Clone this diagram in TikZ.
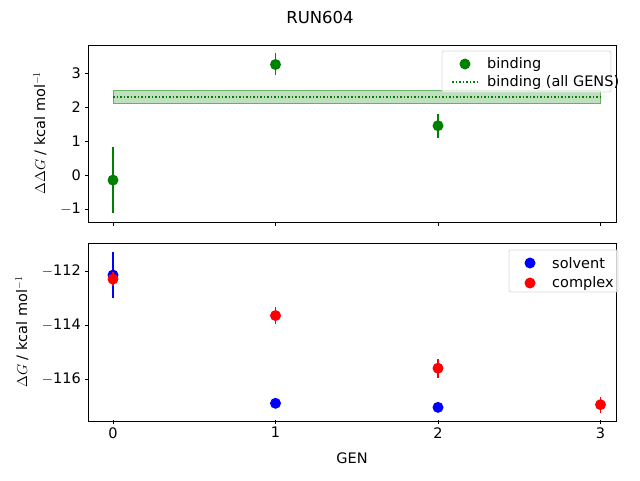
\documentclass[tikz,border=0pt]{standalone}
\usepackage{fontspec}
\setmainfont{DejaVu Sans}
\definecolor{mplgreen}{RGB}{0,128,0}
\tikzset{
  frame/.style={draw, line width=0.8pt},
  tick/.style={line width=0.8pt},
  errbar/.style={line width=1.8pt},
  marker/.style={circle, inner sep=0pt, minimum size=11pt},
  lbl/.style={font=\fontsize{14.5}{17}\selectfont, inner sep=1pt},
  legendbox/.style={draw=black!15, fill=white, fill opacity=0.8, rounded corners=2pt, line width=0.8pt}
}
\begin{document}
\begin{tikzpicture}[x=1pt, y=-1pt]
\useasboundingbox (0,0) rectangle (640,480);
\node[lbl, font=\fontsize{16.5}{19}\selectfont] (title) at (320,17) {RUN604};
% top axes
\draw[frame] (88,45) rectangle (616,222);
\begin{scope}[x=162.5pt, y=34pt, shift={(113pt,-175pt)}]
  \fill[mplgreen!25] (0,2.1) rectangle (3,2.5);
  \draw[mplgreen!60, line width=0.8pt] (0,2.1) rectangle (3,2.5);
  \draw[mplgreen, dotted, line width=1.5pt] (0,2.3) -- (3,2.3);
  \foreach \gx/\gy/\lo/\hi in {0/-0.15/-1.13/0.82, 1/3.25/2.95/3.6, 2/1.45/1.1/1.8}{
    \draw[errbar, mplgreen] (\gx,\lo) -- (\gx,\hi);
    \node[marker, fill=mplgreen] at (\gx,\gy) {};
  }
  \foreach \gy/\txt in {-1/$-$1,0/0,1/1,2/2,3/3}{
    \draw[tick] (-0.1538,\gy) -- ++(-3.5pt,0);
    \node[lbl, anchor=east] at ([xshift=-6pt]-0.1538,\gy) {\txt};
  }
  \foreach \gx in {0,1,2,3}
    \draw[tick] (\gx,-1.41) -- ++(0,-3.5pt);
\end{scope}
\node[lbl, rotate=90] (ylabA) at (40,133) {$\Delta\Delta G$ / kcal mol$^{-1}$};
% legend top
\draw[legendbox] (442,51) rectangle (611,92);
\node[marker, fill=mplgreen] (lgA) at (465,64) {};
\node[lbl, anchor=west] (lgAt) at (486,64) {binding};
\draw[mplgreen, dotted, line width=1.5pt] (452,82) -- (478,82);
\node[lbl, anchor=west] (lgBt) at (486,82) {binding (all GENS)};
% bottom axes
\draw[frame] (88,243) rectangle (616,421);
\begin{scope}[x=162.5pt, y=27pt, shift={(113pt,2753pt)}]
  \draw[errbar, blue] (0,-111.3) -- (0,-113.0);
  \foreach \gx/\gy in {0/-112.15, 1/-116.9, 2/-117.05}
    \node[marker, fill=blue] at (\gx,\gy) {};
  \foreach \gx/\gy/\er in {0/-112.3/0.25, 1/-113.65/0.3, 2/-115.6/0.35, 3/-116.95/0.3}{
    \draw[errbar, red] (\gx,\gy-\er) -- (\gx,\gy+\er);
    \node[marker, fill=red] at (\gx,\gy) {};
  }
  \foreach \gy/\txt in {-112/112,-114/114,-116/116}{
    \draw[tick] (-0.1538,\gy) -- ++(-3.5pt,0);
    \node[lbl, anchor=east] at ([xshift=-6pt]-0.1538,\gy) {$-$\txt};
  }
  \foreach \gx in {0,1,2,3}{
    \draw[tick] (\gx,-117.52) -- ++(0,-3.5pt);
    \node[lbl, anchor=north] at ([yshift=-6pt]\gx,-117.52) {\gx};
  }
\end{scope}
\node[lbl, rotate=90] (ylabB) at (22,332) {$\Delta G$ / kcal mol$^{-1}$};
\node[lbl] (xlab) at (352,458) {GEN};
% legend bottom
\draw[legendbox] (509,250) rectangle (618,292);
\node[marker, fill=blue] (lgC) at (530,263) {};
\node[lbl, anchor=west] (lgCt) at (551,263) {solvent};
\node[marker, fill=red] (lgD) at (530,283) {};
\node[lbl, anchor=west] (lgDt) at (551,283) {complex};
\end{tikzpicture}
\end{document}
